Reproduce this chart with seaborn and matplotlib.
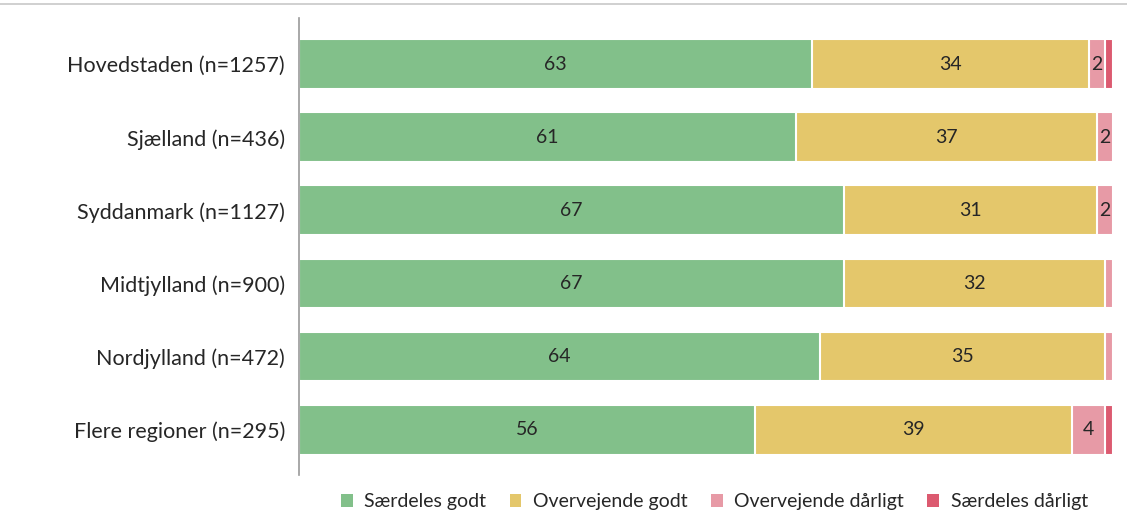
import numpy as np
import pandas as pd
import seaborn as sns
import matplotlib.pyplot as plt
from matplotlib.lines import Line2D
from matplotlib.patches import Patch

# Data (percent)
regions = ["Hovedstaden (n=1257)", "Sjælland (n=436)", "Syddanmark (n=1127)",
           "Midtjylland (n=900)", "Nordjylland (n=472)", "Flere regioner (n=295)"]
categories = ["Særdeles godt", "Overvejende godt", "Overvejende dårligt", "Særdeles dårligt"]
saerdeles_godt = [63, 61, 67, 67, 64, 56]
overvejende_godt = [34, 37, 31, 32, 35, 39]
overvejende_daarligt = [2, 2, 2, 1, 1, 4]
saerdeles_daarligt = [1, 0, 0, 0, 0, 1]
colors = ["#82C08A", "#E4C76B", "#E79AA6", "#DC5A70"]

df = pd.DataFrame({
    "region": regions,
    categories[0]: saerdeles_godt,
    categories[1]: overvejende_godt,
    categories[2]: overvejende_daarligt,
    categories[3]: saerdeles_daarligt,
})

sns.set_theme(style="white")
plt.rcParams['font.family'] = ['Lato', 'DejaVu Sans']

fig = plt.figure(figsize=(11.27, 5.24), dpi=100)
ax = fig.add_axes([0.2653, 0.0935, 0.7223, 0.872])

# stacked bars: draw cumulative layers from the full bar down to the first segment
vals = df[categories].to_numpy(dtype=float)
cum = vals.cumsum(axis=1)
for i in range(len(categories) - 1, -1, -1):
    sns.barplot(x=cum[:, i], y=df["region"], orient="h", color=colors[i],
                width=0.68, edgecolor="white", linewidth=1.5, saturation=1, ax=ax)

# segment labels
for r in range(len(regions)):
    left = 0
    for i in range(len(categories)):
        v = vals[r, i]
        if v >= 2:
            ax.text(left + v / 2, r, f"{int(v)}", ha="center", va="center",
                    fontsize=14, color="#262626")
        left += v

ax.set_xlim(0, 100)
ax.set_ylim(5.62, -0.63)
ax.set_xlabel("")
ax.set_ylabel("")
ax.set_xticks([])
ax.tick_params(axis="y", length=0, pad=10, labelsize=15.5, labelcolor="#262626")
for s in ["top", "right", "bottom"]:
    ax.spines[s].set_visible(False)
ax.spines["left"].set_color("#9A9A9A")
ax.spines["left"].set_linewidth(1.2)

handles = [Patch(facecolor=c, edgecolor="none") for c in colors]
fig.legend(handles, categories, loc="center", bbox_to_anchor=(0.634, 0.042), ncol=4,
           frameon=False, fontsize=14, handlelength=0.6, handleheight=0.6,
           handletextpad=0.6, columnspacing=1.2, labelcolor="#262626")

# thin border line at the top, as in the source
fig.add_artist(Line2D([0, 1], [0.992, 0.992], color="#C8C8C8", linewidth=1.2,
                      transform=fig.transFigure))

fig.savefig("out.png", dpi=100)
